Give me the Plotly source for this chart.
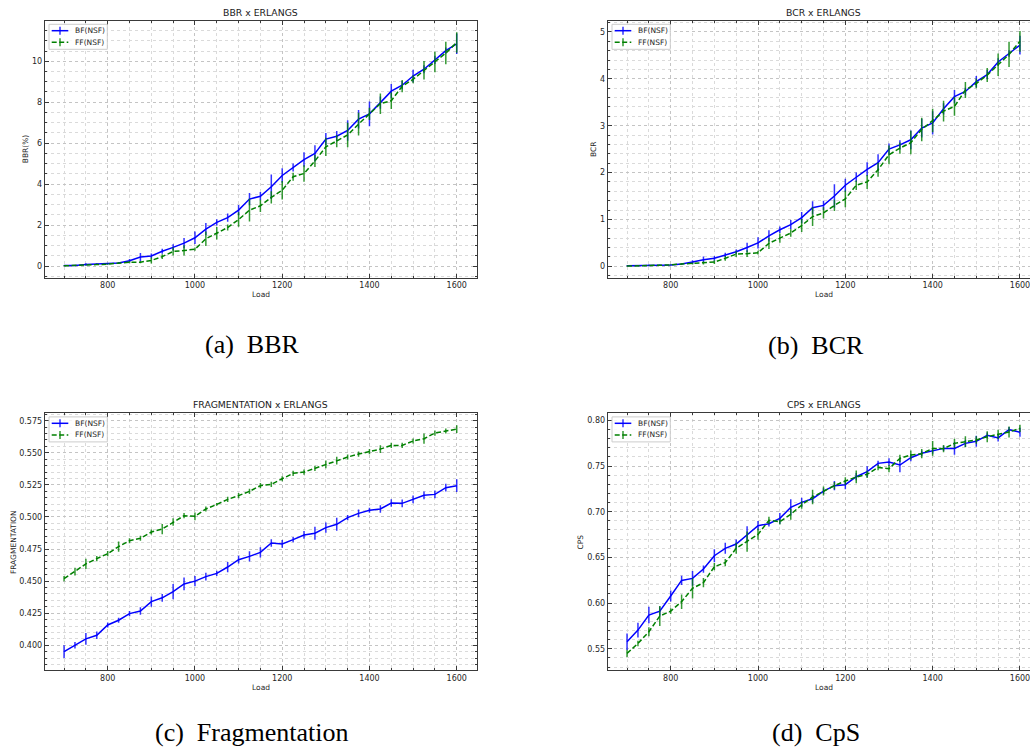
import plotly.graph_objects as go

W, H = 1030, 753

loads = [700, 725, 750, 775, 800, 825, 850, 875, 900, 925, 950, 975, 1000,
         1025, 1050, 1075, 1100, 1125, 1150, 1175, 1200, 1225, 1250, 1275,
         1300, 1325, 1350, 1375, 1400, 1425, 1450, 1475, 1500, 1525, 1550,
         1575, 1600]

series_names = ["BF(NSF)", "FF(NSF)"]

bbr_bf = [0.02, 0.02, 0.08, 0.10, 0.11, 0.15, 0.26, 0.44, 0.49, 0.72, 0.91, 1.12, 1.38,
          1.80, 2.13, 2.36, 2.73, 3.27, 3.41, 3.87, 4.42, 4.81, 5.20, 5.50,
          6.20, 6.34, 6.62, 7.17, 7.43, 7.98, 8.54, 8.83, 9.28, 9.61, 10.07,
          10.52, 10.85]
bbr_bf_err = [0.02, 0.02, 0.05, 0.03, 0.03, 0.03, 0.08, 0.2, 0.12, 0.12, 0.15, 0.25, 0.3,
              0.3, 0.15, 0.2, 0.25, 0.3, 0.2, 0.6, 0.35, 0.2, 0.35, 0.4,
              0.3, 0.25, 0.5, 0.45, 0.6, 0.3, 0.35, 0.2, 0.3, 0.2, 0.2,
              0.15, 0.5]
bbr_ff = [0.01, 0.02, 0.04, 0.07, 0.09, 0.14, 0.19, 0.19, 0.27, 0.46, 0.71, 0.76, 0.82,
          1.33, 1.60, 1.88, 2.27, 2.73, 2.94, 3.35, 3.70, 4.36, 4.52, 5.13,
          5.82, 6.10, 6.40, 6.93, 7.43, 7.93, 8.07, 8.78, 9.12, 9.56, 9.96,
          10.40, 10.92]
bbr_ff_err = [0.01, 0.01, 0.02, 0.02, 0.03, 0.03, 0.06, 0.06, 0.15, 0.12, 0.2, 0.25, 0.08,
              0.35, 0.3, 0.15, 0.35, 0.55, 0.3, 0.3, 0.45, 0.2, 0.4, 0.3,
              0.45, 0.3, 0.6, 0.55, 0.3, 0.5, 0.4, 0.3, 0.2, 0.45, 0.5,
              0.55, 0.5]

bcr_bf = [0.01, 0.01, 0.02, 0.025, 0.03, 0.05, 0.09, 0.14, 0.17, 0.24, 0.31, 0.40, 0.50,
          0.65, 0.78, 0.89, 1.04, 1.25, 1.30, 1.50, 1.73, 1.90, 2.07, 2.21,
          2.50, 2.59, 2.70, 2.95, 3.06, 3.36, 3.62, 3.73, 3.94, 4.09, 4.36,
          4.54, 4.72]
bcr_bf_err = [0.01, 0.01, 0.02, 0.01, 0.01, 0.01, 0.04, 0.07, 0.05, 0.05, 0.05, 0.1, 0.12,
              0.12, 0.07, 0.1, 0.12, 0.14, 0.1, 0.25, 0.14, 0.1, 0.15, 0.18,
              0.12, 0.1, 0.2, 0.2, 0.25, 0.12, 0.14, 0.08, 0.12, 0.1, 0.08,
              0.07, 0.2]
bcr_ff = [0.005, 0.01, 0.015, 0.02, 0.03, 0.05, 0.06, 0.07, 0.09, 0.17, 0.26, 0.27, 0.29,
          0.49, 0.60, 0.71, 0.87, 1.06, 1.14, 1.30, 1.44, 1.73, 1.80, 2.06,
          2.38, 2.52, 2.64, 2.92, 3.11, 3.31, 3.41, 3.76, 3.90, 4.08, 4.30,
          4.52, 4.80]
bcr_ff_err = [0.005, 0.005, 0.01, 0.01, 0.01, 0.01, 0.02, 0.03, 0.04, 0.05, 0.06, 0.07, 0.04,
              0.12, 0.1, 0.08, 0.14, 0.2, 0.12, 0.12, 0.18, 0.1, 0.15, 0.15,
              0.2, 0.12, 0.25, 0.25, 0.25, 0.22, 0.2, 0.17, 0.1, 0.15, 0.24,
              0.27, 0.22]

frag_bf = [0.395, 0.400, 0.405, 0.4078, 0.4158, 0.4195, 0.4247, 0.4267, 0.434, 0.437, 0.4418,
           0.4478, 0.450, 0.4535, 0.456, 0.461, 0.4667, 0.4693, 0.4724, 0.4797, 0.479,
           0.4823, 0.486, 0.4873, 0.4917, 0.4943, 0.4995, 0.5028, 0.5052, 0.5062, 0.5109,
           0.5106, 0.5137, 0.5169, 0.5176, 0.5228, 0.5244]
frag_bf_err = [0.005, 0.0025, 0.0045, 0.003, 0.002, 0.002, 0.002, 0.003, 0.004, 0.003, 0.006,
               0.005, 0.004, 0.003, 0.002, 0.004, 0.003, 0.004, 0.004, 0.003, 0.003,
               0.002, 0.003, 0.005, 0.004, 0.005, 0.002, 0.003, 0.002, 0.003, 0.003,
               0.003, 0.003, 0.003, 0.003, 0.003, 0.005]
frag_ff = [0.4519, 0.4574, 0.4634, 0.4675, 0.4714, 0.4769, 0.4815, 0.4834, 0.4883, 0.4906,
           0.4961, 0.501, 0.5005, 0.5062, 0.5098, 0.5137, 0.5166, 0.520, 0.5244, 0.5254,
           0.5298, 0.534, 0.535, 0.5379, 0.541, 0.5439, 0.5467, 0.549, 0.5509, 0.5529,
           0.5558, 0.5558, 0.5592, 0.561, 0.5654, 0.567, 0.5685]
frag_ff_err = [0.002, 0.003, 0.004, 0.002, 0.002, 0.004, 0.002, 0.002, 0.002, 0.004,
               0.003, 0.002, 0.003, 0.002, 0.001, 0.002, 0.002, 0.002, 0.002, 0.002,
               0.002, 0.002, 0.002, 0.002, 0.003, 0.003, 0.002, 0.002, 0.002, 0.003,
               0.002, 0.002, 0.002, 0.004, 0.002, 0.002, 0.003]

cps_bf = [0.5577, 0.5704, 0.5869, 0.5912, 0.6077, 0.6248, 0.627, 0.6372, 0.6518, 0.6599,
          0.6646, 0.6752, 0.6847, 0.6869, 0.6927, 0.7047, 0.7102, 0.7142, 0.7226, 0.7285,
          0.7296, 0.7383, 0.7438, 0.7529, 0.7544, 0.7511, 0.7591, 0.7639, 0.7664, 0.7693,
          0.7693, 0.7748, 0.777, 0.7836, 0.7807, 0.7898, 0.7869]
cps_bf_err = [0.009, 0.008, 0.009, 0.005, 0.006, 0.005, 0.008, 0.004, 0.007, 0.006,
              0.005, 0.009, 0.005, 0.003, 0.006, 0.009, 0.005, 0.004, 0.003, 0.005,
              0.005, 0.004, 0.006, 0.003, 0.004, 0.008, 0.004, 0.003, 0.003, 0.003,
              0.007, 0.004, 0.006, 0.003, 0.004, 0.003, 0.005]
cps_ff = [0.5449, 0.5558, 0.5686, 0.5858, 0.5912, 0.6015, 0.6161, 0.6223, 0.6398, 0.6442,
          0.6599, 0.6672, 0.6752, 0.6905, 0.6891, 0.6971, 0.7073, 0.7161, 0.7226, 0.7285,
          0.7336, 0.738, 0.7409, 0.7485, 0.7471, 0.7584, 0.762, 0.7635, 0.7693, 0.769,
          0.7748, 0.7766, 0.7785, 0.7821, 0.7847, 0.7872, 0.7912]
cps_ff_err = [0.004, 0.003, 0.005, 0.011, 0.003, 0.008, 0.011, 0.005, 0.004, 0.004,
              0.006, 0.011, 0.006, 0.004, 0.003, 0.006, 0.004, 0.008, 0.005, 0.004,
              0.004, 0.007, 0.004, 0.003, 0.004, 0.004, 0.005, 0.005, 0.008, 0.004,
              0.005, 0.006, 0.004, 0.006, 0.005, 0.006, 0.004]

titles = ["BBR x ERLANGS", "BCR x ERLANGS", "FRAGMENTATION x ERLANGS", "CPS x ERLANGS"]
ylabels = ["BBR(%)", "BCR", "FRAGMENTATION", "CPS"]
captions = ["(a)  BBR", "(b)  BCR", "(c)  Fragmentation", "(d)  CpS"]

# ---------------- layout geometry (pixels) ----------------
LEFT_COL = (44.7, 476.7)
RIGHT_COL = (607.7, 1030.0)
TOP_ROW = (20.7, 277.7)
BOT_ROW = (413.3, 670.3)

panels = [
    dict(data=(bbr_bf, bbr_bf_err, bbr_ff, bbr_ff_err), col=LEFT_COL, row=TOP_ROW,
         xr=[655.6, 1645.8], yr=[-0.57, 11.98], ydt=2, ymin=0.5, tick0=0, fmt="",
         ylab_x=25, cap=(252, 344), right=False),
    dict(data=(bcr_bf, bcr_bf_err, bcr_ff, bcr_ff_err), col=RIGHT_COL, row=TOP_ROW,
         xr=[655.7, 1623.0], yr=[-0.243, 5.24], ydt=1, ymin=0.2, tick0=0, fmt="",
         ylab_x=592.7, cap=(816, 345), right=True),
    dict(data=(frag_bf, frag_bf_err, frag_ff, frag_ff_err), col=LEFT_COL, row=BOT_ROW,
         xr=[655.6, 1645.8], yr=[0.3805, 0.5808], ydt=0.025, ymin=0.005, tick0=0.4, fmt=".3f",
         ylab_x=13.3, cap=(252, 732), right=False),
    dict(data=(cps_bf, cps_bf_err, cps_ff, cps_ff_err), col=RIGHT_COL, row=BOT_ROW,
         xr=[655.7, 1623.0], yr=[0.5264, 0.8077], ydt=0.05, ymin=0.01, tick0=0.55, fmt=".2f",
         ylab_x=580.7, cap=(816, 732), right=True),
]

BLUE = "#0000ff"
GREEN = "#008000"
BLUE_ERR = "rgba(0,0,255,0.8)"
GREEN_ERR = "rgba(0,128,0,0.8)"
GREEN_DASH = "5px,2.5px"
AX = "#3a3a3a"
TXT = "#262626"
FONT = "DejaVu Sans"


def px(x):
    return x / W


def py(y):
    return 1 - y / H


fig = go.Figure()
annotations = []
shapes = []
layout = dict(
    width=W, height=H, margin=dict(l=0, r=0, t=0, b=0),
    paper_bgcolor="white", plot_bgcolor="white",
    font=dict(family=FONT, size=8, color=TXT),
    showlegend=False,
)

for i, p in enumerate(panels):
    n = i + 1
    sfx = "" if n == 1 else str(n)
    xa, ya = "x" + sfx, "y" + sfx
    bf, bfe, ff, ffe = p["data"]

    fig.add_trace(go.Scatter(
        x=loads, y=bf, mode="lines", name=series_names[0],
        line=dict(color=BLUE, width=1.5),
        error_y=dict(type="data", array=bfe, visible=True, width=0,
                     thickness=1.5, color=BLUE_ERR),
        xaxis=xa, yaxis=ya))
    fig.add_trace(go.Scatter(
        x=loads, y=ff, mode="lines", name=series_names[1],
        line=dict(color=GREEN, width=1.5, dash=GREEN_DASH),
        error_y=dict(type="data", array=ffe, visible=True, width=0,
                     thickness=1.5, color=GREEN_ERR),
        xaxis=xa, yaxis=ya))

    x0, x1 = p["col"]
    y0, y1 = p["row"]
    common = dict(
        showline=True, linecolor=AX, linewidth=1,
        ticks="inside", ticklen=4, tickwidth=1, tickcolor=AX,
        showgrid=True, gridcolor="#c4c4c4", griddash="dot", gridwidth=1,
        zeroline=False, tickfont=dict(family=FONT, size=8, color=TXT),
    )
    layout["xaxis" + sfx] = dict(
        common, domain=[px(x0), px(x1)], range=p["xr"], anchor=ya,
        tick0=0, dtick=200, mirror="allticks", ticklabeloverflow="allow",
        minor=dict(dtick=50, tick0=0, ticks="inside", ticklen=2, tickcolor=AX,
                   showgrid=True, gridcolor="#dadada", griddash="dot"),
    )
    layout["yaxis" + sfx] = dict(
        common, domain=[py(y1), py(y0)], range=p["yr"], anchor=xa,
        tick0=p["tick0"], dtick=p["ydt"], tickformat=p["fmt"],
        mirror=(False if p["right"] else "allticks"),
        minor=dict(dtick=p["ymin"], tick0=p["tick0"], ticks="inside", ticklen=2,
                   tickcolor=AX, showgrid=True, gridcolor="#dadada", griddash="dot"),
    )

    # ---- legend box (drawn like matplotlib's) ----
    bx0, by0, bx1, by1 = x0 + 4.3, y0 + 3.6, x0 + 62.6, y0 + 28.6
    shapes.append(dict(type="rect", xref="paper", yref="paper",
                       x0=px(bx0), x1=px(bx1), y0=py(by1), y1=py(by0),
                       line=dict(color="#cccccc", width=1),
                       fillcolor="rgba(255,255,255,0.85)", layer="above"))
    rows = [(y0 + 10.0, BLUE, BLUE_ERR, "solid", series_names[0]),
            (y0 + 21.6, GREEN, GREEN_ERR, GREEN_DASH, series_names[1])]
    for ry, col, ecol, dash, label in rows:
        shapes.append(dict(type="line", xref="paper", yref="paper",
                           x0=px(x0 + 7.0), x1=px(x0 + 23.6), y0=py(ry), y1=py(ry),
                           line=dict(color=col, width=1.5, dash=dash), layer="above"))
        shapes.append(dict(type="line", xref="paper", yref="paper",
                           x0=px(x0 + 15.3), x1=px(x0 + 15.3), y0=py(ry - 4), y1=py(ry + 4),
                           line=dict(color=ecol, width=1.5), layer="above"))
        annotations.append(dict(text=label, x=px(x0 + 28.6), y=py(ry), xref="paper", yref="paper",
                                showarrow=False, xanchor="left", yanchor="middle",
                                font=dict(family=FONT, size=7.5, color=TXT)))

    # the (cropped) right panels keep the full figure geometry for centering
    full_x1 = 1039.6 if p["right"] else x1
    cx = (x0 + full_x1) / 2
    annotations.append(dict(text=titles[i], x=px(cx), y=py(y0 - 8.5), xref="paper", yref="paper",
                            showarrow=False, xanchor="center", yanchor="middle",
                            font=dict(family=FONT, size=9.3, color="#1a1a1a")))
    annotations.append(dict(text="Load", x=px(cx), y=py(y1 + 17), xref="paper", yref="paper",
                            showarrow=False, xanchor="center", yanchor="middle",
                            font=dict(family=FONT, size=7.5, color=TXT)))
    annotations.append(dict(text=ylabels[i], x=px(p["ylab_x"]), y=py((y0 + y1) / 2),
                            xref="paper", yref="paper", showarrow=False, textangle=-90,
                            xanchor="center", yanchor="middle",
                            font=dict(family=FONT, size=7.5, color=TXT)))
    annotations.append(dict(text=captions[i], x=px(p["cap"][0]), y=py(p["cap"][1]),
                            xref="paper", yref="paper", showarrow=False,
                            xanchor="center", yanchor="middle",
                            font=dict(family="Liberation Serif", size=26, color="black")))

layout["annotations"] = annotations
layout["shapes"] = shapes
fig.update_layout(**layout)
fig.write_html(
    "out.html",
    config={"displayModeBar": False, "staticPlot": True},
    post_script="document.body.style.margin='0';document.body.style.overflow='hidden';",
)
